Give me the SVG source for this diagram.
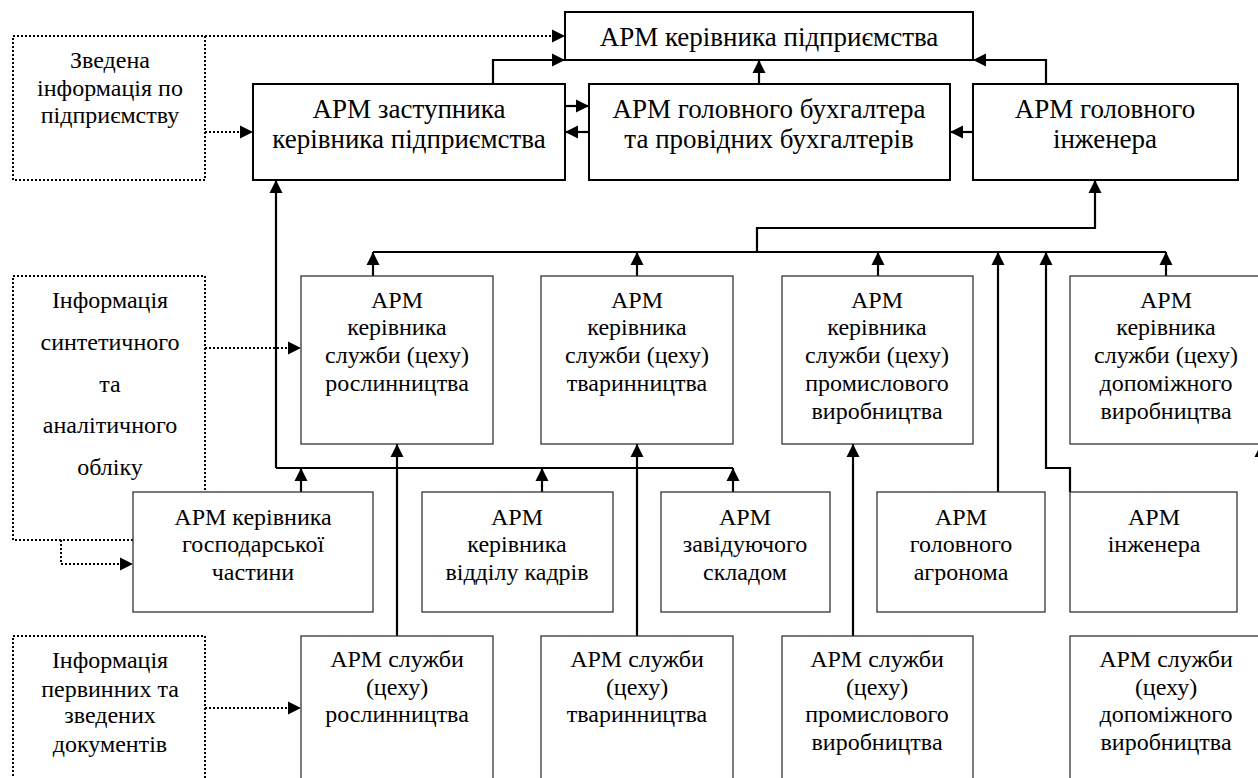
<svg xmlns="http://www.w3.org/2000/svg" width="1258" height="778" viewBox="0 0 1258 778">
<defs>
<marker id="ah" markerUnits="userSpaceOnUse" markerWidth="14" markerHeight="14" refX="13" refY="7" orient="auto">
<path d="M0,0.5 L13,7 L0,13.5 z" fill="#000"/>
</marker>
<style>
text{font-family:'Liberation Serif','Times New Roman',serif;font-size:24px;fill:#000;text-anchor:middle}
.big{font-size:27px}
.b1{fill:#fff;stroke:#000;stroke-width:2}
.b2{fill:#fff;stroke:#333;stroke-width:1.3}
.d{fill:none;stroke:#000;stroke-width:2;stroke-dasharray:2,2}
.c{fill:none;stroke:#000;stroke-width:2.2}
.dc{fill:none;stroke:#000;stroke-width:2;stroke-dasharray:2,2}
</style>
</defs>
<rect width="1258" height="778" fill="#fff"/>
<g font-family="Liberation Serif, serif">
<g id="info1"><rect class="d" x="13" y="36" width="192" height="144"/>
<text x="110" y="68">Зведена</text><text x="110" y="96">інформація по</text><text x="110" y="123">підприємству</text></g>
<g id="info2"><rect class="d" x="13" y="276" width="192" height="264"/>
<text x="110" y="308">Інформація</text><text x="110" y="350">синтетичного</text><text x="110" y="392">та</text><text x="110" y="433">аналітичного</text><text x="110" y="475">обліку</text></g>
<g id="info3"><rect class="d" x="13" y="636" width="192" height="160"/>
<text x="110" y="668">Інформація</text><text x="110" y="697">первинних та</text><text x="110" y="723">зведених</text><text x="110" y="752">документів</text></g>

<g id="connectors">
<path class="dc" d="M205,36 H565" marker-end="url(#ah)"/>
<path class="dc" d="M205,132 H253" marker-end="url(#ah)"/>
<path class="dc" d="M205,348 H301" marker-end="url(#ah)"/>
<path class="dc" d="M61,540 V564 H133" marker-end="url(#ah)"/>
<path class="dc" d="M205,708 H301" marker-end="url(#ah)"/>
<path class="c" d="M493,84 V60 H565" marker-end="url(#ah)"/>
<path class="c" d="M759,84 V60" marker-end="url(#ah)"/>
<path class="c" d="M1046,84 V60 H973" marker-end="url(#ah)"/>
<path class="c" d="M565,106 H589" marker-end="url(#ah)"/>
<path class="c" d="M589,132 H565" marker-end="url(#ah)"/>
<path class="c" d="M973,132 H950" marker-end="url(#ah)"/>
<path class="c" d="M757,252 V228 H1095 V180" marker-end="url(#ah)"/>
<path class="c" d="M373,252 H1166"/>
<path class="c" d="M373,276 V252" marker-end="url(#ah)"/>
<path class="c" d="M637,276 V252" marker-end="url(#ah)"/>
<path class="c" d="M878,276 V252" marker-end="url(#ah)"/>
<path class="c" d="M1166,276 V252" marker-end="url(#ah)"/>
<path class="c" d="M998,492 V252" marker-end="url(#ah)"/>
<path class="c" d="M1070,492 V468 H1046 V252" marker-end="url(#ah)"/>
<path class="c" d="M276,468 V180" marker-end="url(#ah)"/>
<path class="c" d="M276,468 H733"/>
<path class="c" d="M301,492 V468" marker-end="url(#ah)"/>
<path class="c" d="M542,492 V468" marker-end="url(#ah)"/>
<path class="c" d="M733,492 V468" marker-end="url(#ah)"/>
<path class="c" d="M397,636 V444" marker-end="url(#ah)"/>
<path class="c" d="M637,636 V444" marker-end="url(#ah)"/>
<path class="c" d="M853,636 V444" marker-end="url(#ah)"/>
<path class="c" d="M1261,636 V444" marker-end="url(#ah)"/>
</g>

<g id="top"><rect class="b1" x="565" y="12" width="408" height="48"/>
<text class="big" x="769" y="46">АРМ керівника підприємства</text></g>
<g id="deputy"><rect class="b1" x="253" y="84" width="312" height="96"/>
<text class="big" x="409" y="118">АРМ заступника</text><text class="big" x="409" y="148">керівника підприємства</text></g>
<g id="accountant"><rect class="b1" x="589" y="84" width="361" height="96"/>
<text class="big" x="769" y="118">АРМ головного бухгалтера</text><text class="big" x="769" y="148">та провідних бухгалтерів</text></g>
<g id="chief-eng"><rect class="b1" x="973" y="84" width="265" height="96"/>
<text class="big" x="1105" y="118">АРМ головного</text><text class="big" x="1105" y="148">інженера</text></g>

<g id="m-rosl"><rect class="b2" x="301" y="276" width="192" height="168"/>
<text x="397" y="308">АРМ</text><text x="397" y="335">керівника</text><text x="397" y="363">служби (цеху)</text><text x="397" y="391">рослинництва</text></g>
<g id="m-tvar"><rect class="b2" x="541" y="276" width="192" height="168"/>
<text x="637" y="308">АРМ</text><text x="637" y="335">керівника</text><text x="637" y="363">служби (цеху)</text><text x="637" y="391">тваринництва</text></g>
<g id="m-prom"><rect class="b2" x="782" y="276" width="191" height="168"/>
<text x="877" y="308">АРМ</text><text x="877" y="335">керівника</text><text x="877" y="363">служби (цеху)</text><text x="877" y="391">промислового</text><text x="877" y="419">виробництва</text></g>
<g id="m-dop"><rect class="b2" x="1070" y="276" width="192" height="168"/>
<text x="1166" y="308">АРМ</text><text x="1166" y="335">керівника</text><text x="1166" y="363">служби (цеху)</text><text x="1166" y="391">допоміжного</text><text x="1166" y="419">виробництва</text></g>

<g id="gosp"><rect class="b2" x="133" y="492" width="240" height="120"/>
<text x="253" y="525">АРМ керівника</text><text x="253" y="552">господарської</text><text x="253" y="580">частини</text></g>
<g id="kadry"><rect class="b2" x="422" y="492" width="191" height="120"/>
<text x="517" y="525">АРМ</text><text x="517" y="552">керівника</text><text x="517" y="580">відділу кадрів</text></g>
<g id="sklad"><rect class="b2" x="661" y="492" width="169" height="120"/>
<text x="745" y="525">АРМ</text><text x="745" y="552">завідуючого</text><text x="745" y="580">складом</text></g>
<g id="agronom"><rect class="b2" x="877" y="492" width="168" height="120"/>
<text x="961" y="525">АРМ</text><text x="961" y="552">головного</text><text x="961" y="580">агронома</text></g>
<g id="engineer"><rect class="b2" x="1070" y="492" width="167" height="120"/>
<text x="1154" y="525">АРМ</text><text x="1154" y="552">інженера</text></g>

<g id="s-rosl"><rect class="b2" x="301" y="636" width="192" height="160"/>
<text x="397" y="667">АРМ служби</text><text x="397" y="695">(цеху)</text><text x="397" y="722">рослинництва</text></g>
<g id="s-tvar"><rect class="b2" x="541" y="636" width="192" height="160"/>
<text x="637" y="667">АРМ служби</text><text x="637" y="695">(цеху)</text><text x="637" y="722">тваринництва</text></g>
<g id="s-prom"><rect class="b2" x="782" y="636" width="191" height="160"/>
<text x="877" y="667">АРМ служби</text><text x="877" y="695">(цеху)</text><text x="877" y="722">промислового</text><text x="877" y="750">виробництва</text></g>
<g id="s-dop"><rect class="b2" x="1070" y="636" width="192" height="160"/>
<text x="1166" y="667">АРМ служби</text><text x="1166" y="695">(цеху)</text><text x="1166" y="722">допоміжного</text><text x="1166" y="750">виробництва</text></g>
</g>
</svg>
